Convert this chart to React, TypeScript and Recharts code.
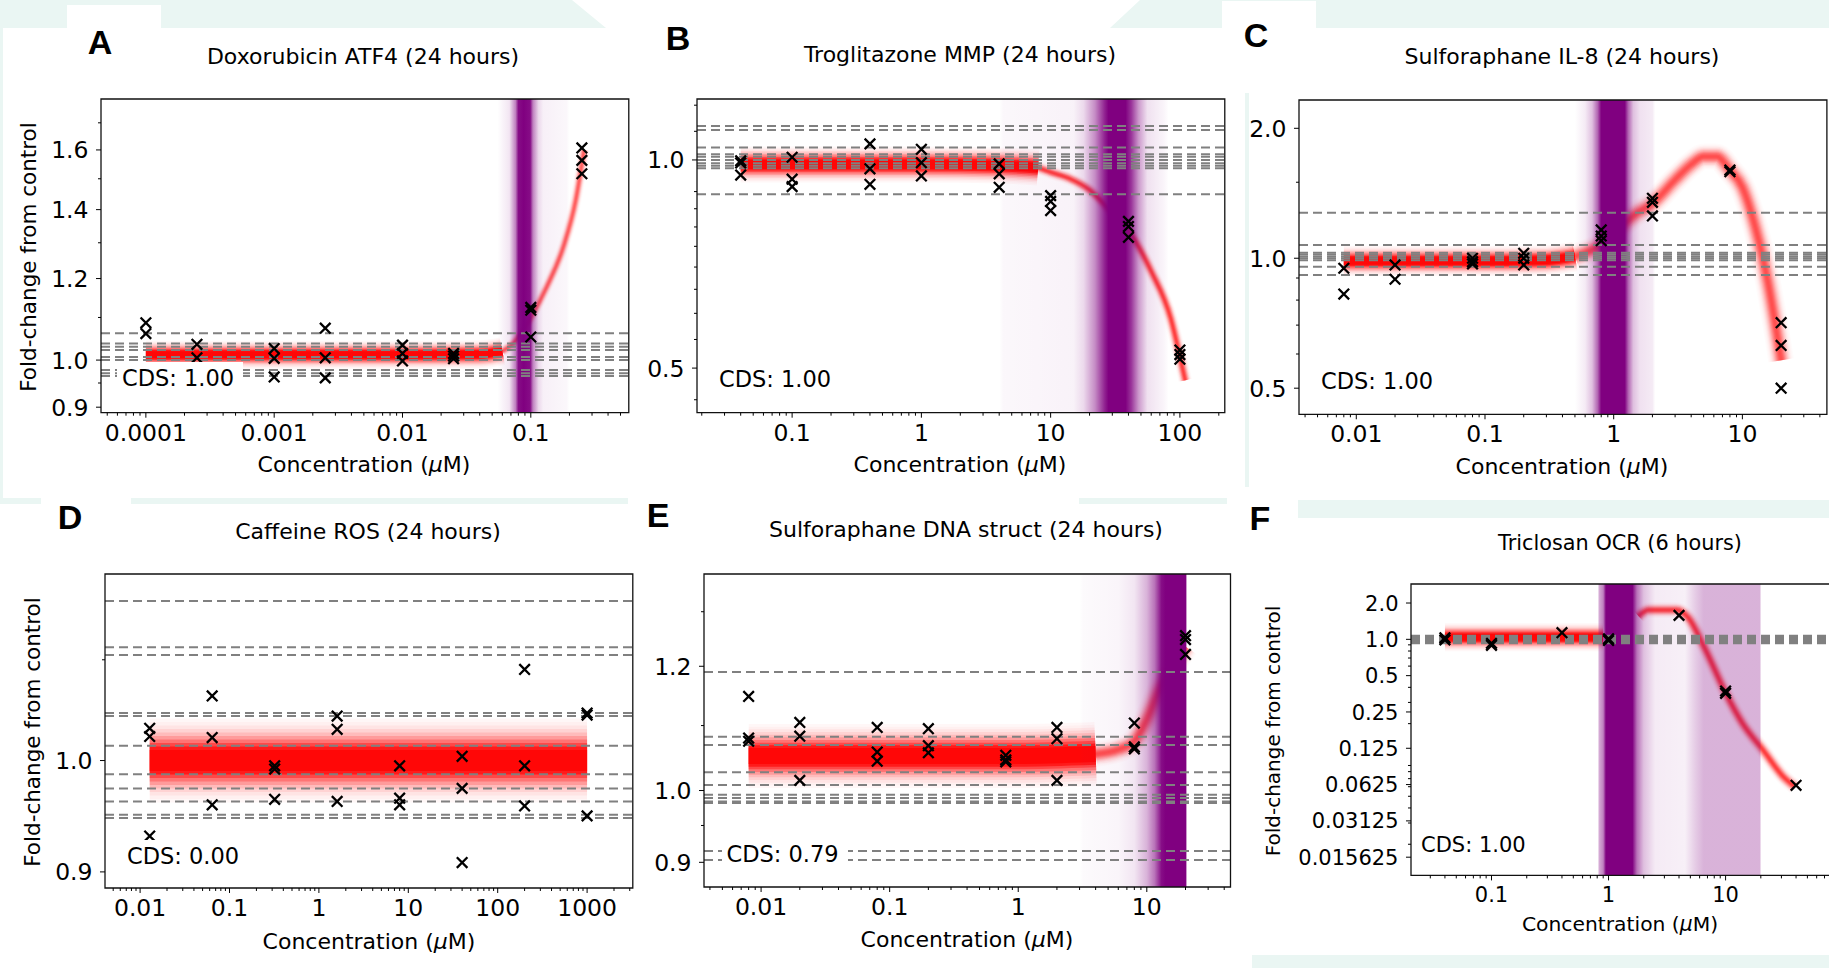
import React from "react";
import { ComposedChart, XAxis, YAxis, Scatter, Line, ReferenceLine, ReferenceArea } from "recharts";

type Pt = { x: number; y: number };
type Dens = { x: number; d: number };

const FONT = "'DejaVu Sans', 'Liberation Sans', sans-serif";
const MINT = "#eaf6f3";
const RED = "#ff0000";
const PURPLE = "#800080";
const GREY = "#808080";

const toPts = (rows: number[][]): Pt[] => rows.map(([x, y]) => ({ x, y }));
const toDens = (rows: number[][]): Dens[] => rows.map(([x, d]) => ({ x, d }));

// ---------- A: Doxorubicin ATF4 ----------
const aObs = [
  [0.0001, 1.087], [0.0001, 1.061], [0.0001, 0.942],
  [0.00025, 1.036], [0.00025, 1.005],
  [0.001, 1.026], [0.001, 1.004], [0.001, 0.963],
  [0.0025, 1.074], [0.0025, 1.005], [0.0025, 0.961],
  [0.01, 1.034], [0.01, 1.015], [0.01, 0.998],
  [0.025, 1.015], [0.025, 1.009], [0.025, 1.003],
  [0.1, 1.125], [0.1, 1.118], [0.1, 1.053],
  [0.25, 1.607], [0.25, 1.563], [0.25, 1.517],
];
const aControls = [1.062, 1.038, 1.03, 1.023, 1.007, 1.0, 0.978, 0.971, 0.965];
const aFitFlat = [[0.0001, 1.012], [0.001, 1.012], [0.01, 1.012], [0.04, 1.013], [0.06, 1.02]];
const aFitRise = [[0.06, 1.02], [0.074, 1.04], [0.1, 1.1], [0.134, 1.18], [0.18, 1.29], [0.224, 1.43], [0.26, 1.6]];
const aDensity = [[0.055, 0], [0.068, 0.1], [0.076, 0.5], [0.08, 0.95], [0.088, 1], [0.099, 0.95], [0.104, 0.5], [0.115, 0.15], [0.125, 0.06], [0.19, 0.03], [0.2, 0]];
const aXTicks = [0.0001, 0.001, 0.01, 0.1];
const aXLabels = ["0.0001", "0.001", "0.01", "0.1"];
const aYTicks = [0.9, 1.0, 1.2, 1.4, 1.6];
const aYLabels = ["0.9", "1.0", "1.2", "1.4", "1.6"];
const aYMinor = [0.95, 1.1, 1.3, 1.5, 1.7];

// ---------- B: Troglitazone MMP ----------
const bObs = [
  [0.04, 0.997], [0.04, 0.99], [0.04, 0.951],
  [0.1, 1.009], [0.1, 0.938], [0.1, 0.915],
  [0.4, 1.055], [0.4, 0.971], [0.4, 0.922],
  [1, 1.036], [1, 0.991], [1, 0.948],
  [4, 0.987], [4, 0.955], [4, 0.913],
  [10, 0.888], [10, 0.871], [10, 0.845],
  [40, 0.815], [40, 0.801], [40, 0.773],
  [100, 0.531], [100, 0.523], [100, 0.515],
];
const bControls = [1.12, 1.105, 1.042, 1.019, 1.011, 1.0, 0.989, 0.981, 0.973, 0.892];
const bFitFlat = [[0.04, 0.985], [1, 0.985], [4, 0.982], [8, 0.975]];
const bFitDrop = [[8, 0.975], [10, 0.96], [14, 0.94], [20, 0.905], [28, 0.85], [40, 0.79], [60, 0.69], [85, 0.59], [100, 0.52], [110, 0.48]];
const bDensity = [[4, 0], [4.3, 0.03], [15, 0.05], [18, 0.15], [22, 0.45], [26, 0.85], [28, 1], [38, 1], [42, 0.8], [48, 0.4], [56, 0.12], [75, 0.04], [82, 0]];
const bXTicks = [0.1, 1, 10, 100];
const bXLabels = ["0.1", "1", "10", "100"];
const bYTicks = [0.5, 1.0];
const bYLabels = ["0.5", "1.0"];
const bYMinor = [1.2, 1.1, 0.9, 0.85, 0.8, 0.75, 0.7, 0.65, 0.6, 0.55, 0.45];

// ---------- C: Sulforaphane IL-8 ----------
const cObs = [
  [0.008, 0.948], [0.008, 0.826],
  [0.02, 0.965], [0.02, 0.894],
  [0.08, 1.0], [0.08, 0.982], [0.08, 0.97],
  [0.2, 1.027], [0.2, 1.0], [0.2, 0.965],
  [0.8, 1.163], [0.8, 1.126], [0.8, 1.098],
  [2, 1.377], [2, 1.348], [2, 1.253],
  [8, 1.601], [8, 1.587],
  [20, 0.709], [20, 0.628], [20, 0.5],
];
const cControls = [1.275, 1.073, 1.03, 1.02, 1.01, 1.0, 0.99, 0.956, 0.915];
const cFitFlat = [[0.008, 0.985], [0.1, 0.985], [0.3, 0.99], [0.5, 1.01]];
const cFitHump = [[0.5, 1.01], [0.6, 1.03], [0.8, 1.075], [1, 1.145], [1.5, 1.27], [2, 1.34], [3, 1.52], [4, 1.65], [5, 1.72], [6.3, 1.72], [8, 1.6], [10, 1.46], [12.6, 1.18], [15.8, 0.88], [20, 0.58]];
const cDensity = [[0.5, 0], [0.6, 0.08], [0.68, 0.25], [0.75, 0.6], [0.8, 1], [1.22, 1], [1.3, 0.6], [1.42, 0.25], [1.6, 0.12], [2.0, 0.08], [2.1, 0]];
const cXTicks = [0.01, 0.1, 1, 10];
const cXLabels = ["0.01", "0.1", "1", "10"];
const cYTicks = [0.5, 1.0, 2.0];
const cYLabels = ["0.5", "1.0", "2.0"];
const cYMinor = [1.5, 0.9, 0.8, 0.7, 0.6];

// ---------- D: Caffeine ROS ----------
const dObs = [
  [0.0128, 1.031], [0.0128, 1.023], [0.0128, 0.931],
  [0.064, 1.063], [0.064, 1.022], [0.064, 0.959],
  [0.32, 0.995], [0.32, 0.992], [0.32, 0.964],
  [1.6, 1.043], [1.6, 1.03], [1.6, 0.962],
  [8, 0.995], [8, 0.965], [8, 0.959],
  [40, 1.004], [40, 0.974], [40, 0.908],
  [200, 1.09], [200, 0.995], [200, 0.958],
  [1000, 1.046], [1000, 1.044], [1000, 0.949],
];
const dControls = [1.163, 1.113, 1.105, 1.046, 1.043, 1.014, 0.987, 0.974, 0.962, 0.95, 0.947];
const dFit = [[0.0128, 1.0], [1000, 1.0]];
const dXTicks = [0.01, 0.1, 1, 10, 100, 1000];
const dXLabels = ["0.01", "0.1", "1", "10", "100", "1000"];
const dYTicks = [0.9, 1.0];
const dYLabels = ["0.9", "1.0"];
const dYMinor = [1.1];

// ---------- E: Sulforaphane DNA struct ----------
const eObs = [
  [0.008, 1.148], [0.008, 1.08], [0.008, 1.075],
  [0.02, 1.105], [0.02, 1.083], [0.02, 1.015],
  [0.08, 1.097], [0.08, 1.058], [0.08, 1.044],
  [0.2, 1.095], [0.2, 1.068], [0.2, 1.057],
  [0.8, 1.053], [0.8, 1.046], [0.8, 1.043],
  [2, 1.097], [2, 1.079], [2, 1.015],
  [8, 1.104], [8, 1.066], [8, 1.063],
  [20, 1.255], [20, 1.248], [20, 1.221],
];
const eControls = [1.19, 1.082, 1.069, 1.027, 1.008, 0.994, 0.989, 0.984, 0.982, 0.915, 0.903];
const eFitFlat = [[0.008, 1.052], [1, 1.052], [4, 1.055]];
const eFitRise = [[4, 1.055], [6, 1.062], [8, 1.075], [10, 1.11], [12.6, 1.16], [16, 1.2], [20, 1.235]];
const eDensity = [[3, 0], [3.2, 0.02], [6, 0.04], [8, 0.1], [10, 0.3], [11.5, 0.55], [13, 0.95], [14, 1], [20, 1], [20.3, 0.5], [20.6, 0]];
const eXTicks = [0.01, 0.1, 1, 10];
const eXLabels = ["0.01", "0.1", "1", "10"];
const eYTicks = [0.9, 1.0, 1.2];
const eYLabels = ["0.9", "1.0", "1.2"];
const eYMinor = [0.95, 1.1, 1.3];

// ---------- F: Triclosan OCR ----------
const fObs = [
  [0.04, 1.03], [0.04, 0.99],
  [0.1, 0.926], [0.1, 0.892],
  [0.4, 1.136],
  [1, 1.01], [1, 0.98],
  [4, 1.58],
  [10, 0.373], [10, 0.357],
  [40, 0.0616],
];
const fControls = [0.93, 0.95, 0.965, 0.98, 1.0, 1.02, 1.035, 1.05, 1.07];
const fFitFlat = [[0.04, 1.04], [0.3, 1.04], [0.9, 1.04]];
const fFitDrop = [[1.8, 1.56], [2.2, 1.75], [3.8, 1.75], [4.8, 1.51], [6.5, 0.88], [10, 0.36], [14, 0.2], [21, 0.12], [31, 0.073], [39, 0.06]];
const fDensity = [[0.82, 0.3], [0.9, 0.5], [0.95, 1], [1.6, 1], [1.75, 0.55], [2.0, 0.25], [2.5, 0.08], [4.5, 0.06], [5.5, 0.2], [6.5, 0.3], [19.8, 0.3], [20, 0]];
const fXTicks = [0.1, 1, 10];
const fXLabels = ["0.1", "1", "10"];
const fYTicks = [2, 1, 0.5, 0.25, 0.125, 0.0625, 0.03125, 0.015625];
const fYLabels = ["2.0", "1.0", "0.5", "0.25", "0.125", "0.0625", "0.03125", "0.015625"];

// minor log ticks (2..9 x 10^k) inside a domain
function minorTicks(lo: number, hi: number, skip: number[] = []) {
  const out: number[] = [];
  for (let k = Math.floor(Math.log10(lo)); k <= Math.ceil(Math.log10(hi)); k++) {
    for (let m = 2; m <= 9; m++) {
      const v = +(m * Math.pow(10, k)).toPrecision(6);
      if (v > lo && v < hi && !skip.includes(v)) out.push(v);
    }
  }
  return out;
}

// stack of nested strokes so the fit reads as a soft gaussian-like band
const N_LAYERS = 12;
function bandLayers(w: number, a: number) {
  const alpha = (f: number) => Math.min(0.97, a * 1.25 * Math.exp(-Math.pow(f / 0.5, 2)));
  const T = (k: number) => (k > N_LAYERS ? 1 : 1 - alpha((k - 0.5) / N_LAYERS));
  const out: { w: number; o: number }[] = [];
  for (let k = N_LAYERS; k >= 1; k--) {
    out.push({ w: (w * k) / N_LAYERS, o: Math.max(0, 1 - T(k) / T(k + 1)) });
  }
  return out;
}

function XTick(props: any) {
  const { x, payload, baseY, majors, labels, fs } = props;
  const i = majors.indexOf(payload.value);
  return (
    <g>
      <line x1={x} x2={x} y1={baseY} y2={baseY + (i >= 0 ? 5 : 3)} stroke="#000" strokeWidth={1} />
      {i >= 0 && (
        <text x={x} y={baseY + 11 + fs * 0.73} textAnchor="middle" fontSize={fs} fontFamily={FONT} fill="#000">
          {labels[i]}
        </text>
      )}
    </g>
  );
}

function YTick(props: any) {
  const { y, payload, baseX, majors, labels, fs } = props;
  const i = majors.indexOf(payload.value);
  return (
    <g>
      <line x1={baseX} x2={baseX - (i >= 0 ? 5 : 3)} y1={y} y2={y} stroke="#000" strokeWidth={1} />
      {i >= 0 && (
        <text x={baseX - 12.5} y={y + fs * 0.36} textAnchor="end" fontSize={fs} fontFamily={FONT} fill="#000">
          {labels[i]}
        </text>
      )}
    </g>
  );
}

const renderCross = (p: any) => {
  const { cx, cy } = p;
  if (cx == null || cy == null) return <g />;
  const r = 5.3;
  return (
    <path
      d={`M${cx - r},${cy - r}L${cx + r},${cy + r}M${cx - r},${cy + r}L${cx + r},${cy - r}`}
      stroke="#000"
      strokeWidth={2.3}
      fill="none"
    />
  );
};

type Fit = { data: Pt[]; w: number; a: number };
type Cfg = {
  id: string;
  title: string;
  cds: string;
  box: number[];
  xDomain: number[];
  yDomain: number[];
  xTicks: number[];
  xLabels: string[];
  yTicks: number[];
  yLabels: string[];
  yMinor: number[];
  points: Pt[];
  controls: number[];
  fits: Fit[];
  density?: Dens[];
  letterAt: number[];
  titleAt: number[];
  xLabelAt: number[];
  yLabelAt?: number[];
  cdsAt: number[];
  fs: { tick: number; title: number; label: number; ylabel: number; cds: number };
};

const FS_BIG = { tick: 23.5, title: 22, label: 22, ylabel: 21.5, cds: 22.5 };
const FS_F = { tick: 21, title: 20.8, label: 20.3, ylabel: 20, cds: 21 };

const panels: Cfg[] = [
  {
    id: "A", title: "Doxorubicin ATF4 (24 hours)", cds: "CDS: 1.00",
    box: [100.8, 99, 628.6, 412.7], xDomain: [4.47e-5, 0.5803], yDomain: [0.889, 1.793],
    xTicks: aXTicks, xLabels: aXLabels, yTicks: aYTicks, yLabels: aYLabels, yMinor: aYMinor,
    points: toPts(aObs), controls: aControls,
    fits: [{ data: toPts(aFitFlat), w: 28, a: 1 }, { data: toPts(aFitRise), w: 12, a: 0.5 }],
    density: toDens(aDensity),
    letterAt: [100, 42], titleAt: [363, 57], xLabelAt: [364, 465], yLabelAt: [29, 257], cdsAt: [122, 378], fs: FS_BIG,
  },
  {
    id: "B", title: "Troglitazone MMP (24 hours)", cds: "CDS: 1.00",
    box: [696.7, 99, 1224.5, 412.7], xDomain: [0.01837, 222.5], yDomain: [0.431, 1.225],
    xTicks: bXTicks, xLabels: bXLabels, yTicks: bYTicks, yLabels: bYLabels, yMinor: bYMinor,
    points: toPts(bObs), controls: bControls,
    fits: [{ data: toPts(bFitFlat), w: 36, a: 1 }, { data: toPts(bFitDrop), w: 14, a: 0.6 }],
    density: toDens(bDensity),
    letterAt: [678, 38], titleAt: [960, 55], xLabelAt: [960, 465], cdsAt: [719, 379], fs: FS_BIG,
  },
  {
    id: "C", title: "Sulforaphane IL-8 (24 hours)", cds: "CDS: 1.00",
    box: [1298.8, 100, 1826.7, 414.3], xDomain: [0.003588, 45.35], yDomain: [0.435, 2.326],
    xTicks: cXTicks, xLabels: cXLabels, yTicks: cYTicks, yLabels: cYLabels, yMinor: cYMinor,
    points: toPts(cObs), controls: cControls,
    fits: [{ data: toPts(cFitFlat), w: 30, a: 1 }, { data: toPts(cFitHump), w: 26, a: 0.55 }],
    density: toDens(cDensity),
    letterAt: [1256, 35], titleAt: [1562, 57], xLabelAt: [1562, 467], cdsAt: [1321, 381], fs: FS_BIG,
  },
  {
    id: "D", title: "Caffeine ROS (24 hours)", cds: "CDS: 0.00",
    box: [104.9, 574.3, 632.7, 888.3], xDomain: [0.004049, 3245], yDomain: [0.8864, 1.193],
    xTicks: dXTicks, xLabels: dXLabels, yTicks: dYTicks, yLabels: dYLabels, yMinor: dYMinor,
    points: toPts(dObs), controls: dControls,
    fits: [{ data: toPts(dFit), w: 84, a: 1 }],
    letterAt: [70, 517], titleAt: [368, 532], xLabelAt: [369, 942], yLabelAt: [33, 732], cdsAt: [127, 856], fs: FS_BIG,
  },
  {
    id: "E", title: "Sulforaphane DNA struct (24 hours)", cds: "CDS: 0.79",
    box: [704.1, 574.3, 1230.6, 887.3], xDomain: [0.003597, 44.77], yDomain: [0.868, 1.374],
    xTicks: eXTicks, xLabels: eXLabels, yTicks: eYTicks, yLabels: eYLabels, yMinor: eYMinor,
    points: toPts(eObs), controls: eControls,
    fits: [{ data: toPts(eFitFlat), w: 64, a: 1 }, { data: toPts(eFitRise), w: 26, a: 0.55 }],
    density: toDens(eDensity),
    letterAt: [658, 515], titleAt: [966, 530], xLabelAt: [967, 940], cdsAt: [726.5, 854], fs: FS_BIG,
  },
  {
    id: "F", title: "Triclosan OCR (6 hours)", cds: "CDS: 1.00",
    box: [1410.6, 584.3, 1850, 875.7], xDomain: [0.02052, 116.5], yDomain: [0.01104, 2.876],
    xTicks: fXTicks, xLabels: fXLabels, yTicks: fYTicks, yLabels: fYLabels,
    yMinor: minorTicks(0.01104, 2.876, fYTicks),
    points: toPts(fObs), controls: fControls,
    fits: [{ data: toPts(fFitFlat), w: 28, a: 0.95 }, { data: toPts(fFitDrop), w: 16, a: 0.6 }],
    density: toDens(fDensity),
    letterAt: [1260, 518], titleAt: [1620, 543], xLabelAt: [1620, 924], yLabelAt: [1273, 731], cdsAt: [1421, 845], fs: FS_F,
  },
];

const YW = 120;
const TOP = 10;

function centered(cx: number, cy: number, extra = ""): React.CSSProperties {
  return {
    position: "absolute",
    left: cx,
    top: cy,
    transform: `translate(-50%, -50%)${extra}`,
    whiteSpace: "nowrap",
    lineHeight: 1,
    color: "#000",
  };
}

function Panel({ p }: { p: Cfg }) {
  const [l, t, r, b] = p.box;
  const w = r - l;
  const h = b - t;
  const xAll = [...p.xTicks, ...minorTicks(p.xDomain[0], p.xDomain[1])];
  const yAll = [...p.yTicks, ...p.yMinor];
  const gid = `purple-${p.id}`;
  const dens = p.density;
  const lg = Math.log10;
  const d0 = dens ? lg(dens[0].x) : 0;
  const d1 = dens ? lg(dens[dens.length - 1].x) : 1;

  return (
    <>
      <div style={{ position: "absolute", left: l - YW, top: t - TOP }}>
        <ComposedChart width={w + YW + 10} height={h + TOP + 60} margin={{ top: TOP, right: 10, bottom: 0, left: 0 }}>
          <defs>
            {dens && (
              <linearGradient id={gid} x1="0" y1="0" x2="1" y2="0">
                {dens.map((s, i) => (
                  <stop key={i} offset={(lg(s.x) - d0) / (d1 - d0)} stopColor={PURPLE} stopOpacity={s.d} />
                ))}
              </linearGradient>
            )}
          </defs>
          <XAxis
            type="number"
            dataKey="x"
            scale="log"
            domain={p.xDomain}
            allowDataOverflow
            ticks={xAll}
            interval={0}
            tickLine={false}
            axisLine={false}
            tickSize={0}
            height={60}
            tick={<XTick baseY={TOP + h} majors={p.xTicks} labels={p.xLabels} fs={p.fs.tick} />}
          />
          <YAxis
            type="number"
            dataKey="y"
            scale="log"
            domain={p.yDomain}
            allowDataOverflow
            ticks={yAll}
            interval={0}
            tickLine={false}
            axisLine={false}
            tickSize={0}
            width={YW}
            tick={<YTick baseX={YW} majors={p.yTicks} labels={p.yLabels} fs={p.fs.tick} />}
          />
          {p.fits.flatMap((f, fi) =>
            bandLayers(f.w, f.a).map((ly, li) => (
              <Line
                key={`fit-${fi}-${li}`}
                data={f.data}
                dataKey="y"
                type="monotone"
                stroke={RED}
                strokeWidth={ly.w}
                strokeOpacity={ly.o}
                strokeLinecap="butt"
                dot={false}
                activeDot={false}
                isAnimationActive={false}
                zIndex={100}
              />
            ))
          )}
          {dens && (
            <ReferenceArea
              x1={dens[0].x}
              x2={dens[dens.length - 1].x}
              y1={p.yDomain[0]}
              y2={p.yDomain[1]}
              fill={`url(#${gid})`}
              fillOpacity={1}
              stroke="none"
              ifOverflow="hidden"
              zIndex={150}
            />
          )}
          {p.controls.map((c, i) => (
            <ReferenceLine
              key={`c-${i}`}
              y={c}
              stroke={GREY}
              strokeWidth={2}
              strokeDasharray="9 5"
              ifOverflow="hidden"
              zIndex={200}
            />
          ))}
          <Scatter data={p.points} shape={renderCross} isAnimationActive={false} zIndex={600} />
          <ReferenceArea
            x1={p.xDomain[0]}
            x2={p.xDomain[1]}
            y1={p.yDomain[0]}
            y2={p.yDomain[1]}
            fill="none"
            fillOpacity={0}
            stroke="#111"
            strokeWidth={1.3}
            ifOverflow="visible"
            zIndex={700}
          />
        </ComposedChart>
      </div>

      <div
        style={{
          position: "absolute",
          left: p.cdsAt[0] - 5,
          top: p.cdsAt[1] - 16,
          height: 32,
          padding: "0 9px 0 5px",
          background: "#fff",
          display: "flex",
          alignItems: "center",
          fontSize: p.fs.cds,
          lineHeight: 1,
          whiteSpace: "nowrap",
          color: "#000",
        }}
      >
        {p.cds}
      </div>

      <div
        style={{
          ...centered(p.letterAt[0], p.letterAt[1]),
          fontFamily: "'Liberation Sans', Arial, sans-serif",
          fontWeight: 700,
          fontSize: 34,
        }}
      >
        {p.id}
      </div>
      <div style={{ ...centered(p.titleAt[0], p.titleAt[1]), fontSize: p.fs.title }}>{p.title}</div>
      <div style={{ ...centered(p.xLabelAt[0], p.xLabelAt[1]), fontSize: p.fs.label }}>
        Concentration (<i>μ</i>M)
      </div>
      {p.yLabelAt && (
        <div style={{ ...centered(p.yLabelAt[0], p.yLabelAt[1], " rotate(-90deg)"), fontSize: p.fs.ylabel }}>
          Fold-change from control
        </div>
      )}
    </>
  );
}

function Mint({ l, t, r, b, clip, color = MINT }: { l: number; t: number; r: number; b: number; clip?: string; color?: string }) {
  return (
    <div
      style={{
        position: "absolute",
        left: l,
        top: t,
        width: r - l,
        height: b - t,
        background: color,
        clipPath: clip,
      }}
    />
  );
}

export default function App() {
  return (
    <div
      style={{
        position: "absolute",
        left: 0,
        top: 0,
        width: 1829,
        height: 968,
        overflow: "hidden",
        background: "#fff",
        fontFamily: FONT,
      }}
    >
      {/* slide background remnants */}
      <Mint l={0} t={0} r={606} b={28} clip="polygon(0 0, 572px 0, 606px 28px, 0 28px)" />
      <Mint l={67} t={5} r={161} b={28} color="#fff" />
      <Mint l={1110} t={0} r={1829} b={28} clip="polygon(30px 0, 719px 0, 719px 28px, 0 28px)" />
      <Mint l={1222} t={1} r={1316} b={28} color="#fff" />
      <Mint l={0} t={28} r={3} b={498} />
      <Mint l={0} t={498} r={41} b={504} />
      <Mint l={131} t={498} r={628} b={504} />
      <Mint l={1079} t={498} r={1227} b={504} />
      <Mint l={1245} t={93} r={1249} b={487} />
      <Mint l={1298} t={500} r={1829} b={518} />
      <Mint l={1252} t={955} r={1829} b={968} />

      {panels.map((p) => (
        <Panel key={p.id} p={p} />
      ))}
    </div>
  );
}
